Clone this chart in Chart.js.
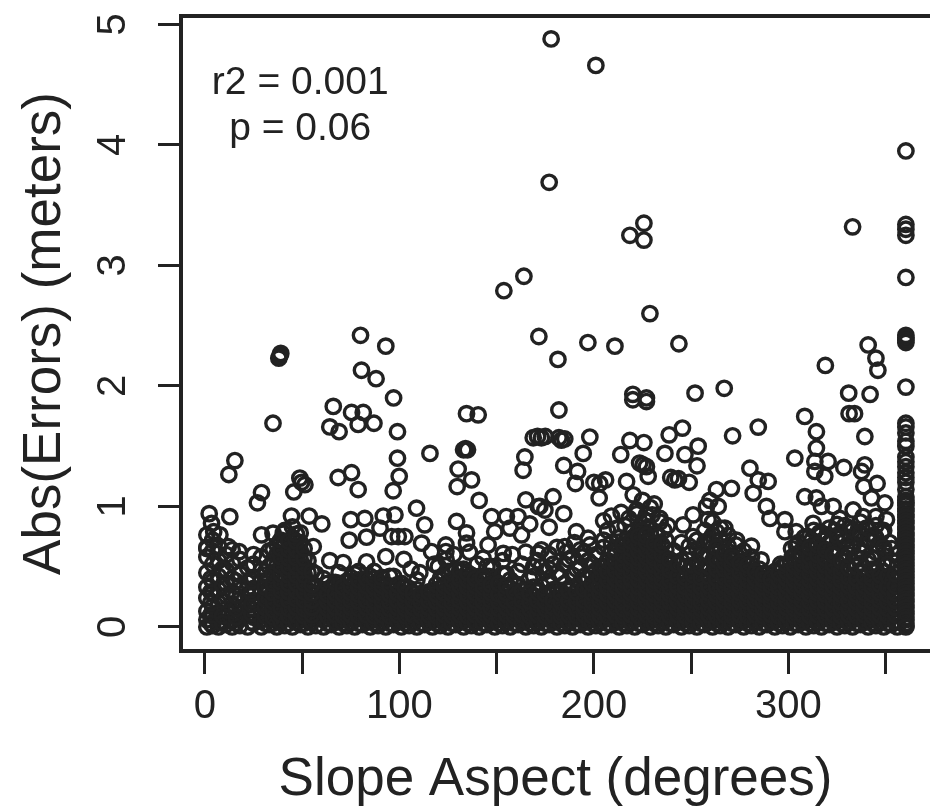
<!DOCTYPE html>
<html>
<head>
<meta charset="utf-8">
<script src="https://cdn.jsdelivr.net/npm/chart.js"></script>
<style>
  body { margin: 0; background: #fff; }
</style>
</head>
<body>
<canvas id="myChart" width="930" height="812"></canvas>
<script>
    // tick labels
    const xTickValues = [0, 50, 100, 150, 200, 250, 300, 350];
    const xTickLabels = ['0', '', '100', '', '200', '', '300', ''];
    const yTickValues = [0, 1, 2, 3, 4, 5];
    const xTitle = 'Slope Aspect (degrees)';
    const yTitle = 'Abs(Errors) (meters)';
    const noteLines = ['r2 = 0.001', 'p = 0.06'];

    // points above the dense band, read one by one
    const upperAspect = [178, 201, 177, 333, 218.5, 225.7, 225.7, 228.8, 153.7, 164, 171.7, 181.5, 196.9, 210.8, 243.7,
        341, 345, 346, 319, 331, 334, 342, 220, 227, 252, 267, 182, 38, 39, 38.5, 80, 80.5, 88, 93, 97, 35, 66, 75.4,
        81.4, 86.9, 78.8, 64.2, 69, 99, 134.5, 140.5, 133, 134, 135, 168.8, 171, 173, 175, 115.7, 99, 99.9, 96.8, 164.5,
        163.6, 130.2, 137.1, 129.7, 141, 15.4, 12.3, 29.1, 27, 68.5, 75.4, 78.8, 48.8, 51.4, 45.7, 49.7, 183.3, 182, 185,
        197.9, 194.5, 184.5, 191.6, 190.5, 203, 200, 206, 202.7, 218.5, 225.7, 213.8, 225.3, 223.5, 227, 216.8, 220.2,
        227.9, 238.7, 245.5, 236.5, 253.6, 246.8, 253, 241.6, 239.5, 243.5, 249, 271.3, 284.5, 308.4, 314.4, 314.4, 303.3,
        320.4, 313.6, 318.7, 313.6, 328.5, 339.3, 339.3, 331.2, 337.6, 345.6, 338.8, 342.7, 349.6, 280.2, 284.5, 289.6,
        281.9, 270.7, 263, 259.6, 227, 220];
    const upperError = [4.88, 4.66, 3.69, 3.32, 3.25, 3.35, 3.21, 2.6, 2.79, 2.91, 2.41, 2.22, 2.36, 2.33, 2.35,
        2.34, 2.23, 2.13, 2.17, 1.94, 1.77, 1.93, 1.93, 1.9, 1.94, 1.98, 1.8, 2.23, 2.27, 2.25, 2.42, 2.13, 2.06, 2.33, 1.9, 1.69, 1.83, 1.78,
        1.78, 1.69, 1.68, 1.66, 1.62, 1.62, 1.77, 1.76, 1.47, 1.48, 1.47, 1.57, 1.58, 1.57, 1.58, 1.44, 1.4, 1.25, 1.13, 1.41,
        1.3, 1.31, 1.22, 1.165, 1.05, 1.38, 1.265, 1.115, 1.03, 1.24, 1.28, 1.14, 1.235, 1.18, 1.12, 1.2, 1.55, 1.57, 1.56,
        1.575, 1.44, 1.34, 1.29, 1.19, 1.19, 1.2, 1.22, 1.07, 1.547, 1.53, 1.43, 1.345, 1.36, 1.33, 1.207, 1.096,
        1.25, 1.594, 1.65, 1.44, 1.5, 1.43, 1.337, 1.22, 1.24, 1.23, 1.2, 1.586, 1.658, 1.747, 1.62, 1.484, 1.4,
        1.373, 1.373, 1.25, 1.29, 1.323, 1.345, 1.58, 1.77, 1.29, 1.19, 1.165, 1.07, 1.03, 1.317, 1.22, 1.207,
        1.11, 1.15, 1.14, 1.05, 1.87, 1.885];

    // points between about 0.45 and 1.1 that still read as single rings
    const middleAspect = [2.2, 12.8, 3.4, 4.5, 44.5, 53.6, 60.1, 75, 82.2, 91.7, 97.7, 90, 108.8, 113, 129.4, 74.2, 83.1, 96, 99.4,
        102.8, 111.4, 116.5, 123.9, 123.9, 134.5, 134.5, 165, 171.4, 147.4, 155, 161, 167, 149, 156.8, 162.8, 171.4, 153.4,
        145.6, 1, 1, 7.7, 12, 17.6, 29.1, 35, 40.3, 55.7, 64.2, 71.1, 83.1, 93, 102.3, 110.5, 179, 174.8, 184.5, 177, 172.2,
        191, 185, 197, 288.7, 290.5, 298.2, 298.2, 304, 301.6, 257.9, 263.9, 251, 245.9, 251, 258.7, 263, 273.3, 281, 267.3, 286,
        308.4, 314.4, 317, 323, 333.3, 338.4, 345, 350.4, 326.4, 312.7, 225, 229, 227, 231, 222, 234, 205, 209, 214, 218, 222,
        226, 230, 234, 238, 207, 212, 216, 220, 224, 228, 232, 236, 124, 128, 136, 140, 143, 120, 106, 118];
    const middleError = [.94, .915, .86, .79, .92, .92, .855, .89, .9, .92, .93, .82, .985, .847, .875, .72, .745, .75, .75,
        .75, .695, .625, .68, .625, .78, .695, 1.055, .999, .916, .916, .916, .855, .79, .82, .764, .61, .61,
        .68, .764, .65, .764, .667, .625, .764, .778, .778, .667, .55, .534, .54, .584, .56, .45, 1.08, .97, .94, .827, 1,
        .79, .667, .736, 1, .9, .89, .79, .79, .65, 1, 1, .93, .847, .75, .89, .79, .72, .67, .82, .556,
        1.08, 1.07, 1, 1, .97, .916, .916, .89, .9, .86, 1.05, .99, .93, 1.02, .97, .9, .88, .92, .95, .9, .94,
        .89, .93, .87, .84, .8, .82, .84, .79, .8, .83, .76, .8, .56, .6, .62, .52, .57, .5, .48, .52];

    // rings on the speckled shoulders just above the solid mass
    const shoulderAspect = [146, 150, 155, 159, 163, 167, 171, 175, 179, 183, 187, 191, 195, 199, 148, 153, 158, 165, 169, 173, 177, 181, 186, 190, 194, 198,
        296, 302, 306, 310, 314, 318, 322, 326, 330, 334, 338, 342, 346, 350, 304, 308, 312, 316, 320, 324, 328, 332, 336, 340, 344, 348, 352];
    const shoulderError = [.42, .36, .44, .36, .52, .4, .55, .46, .52, .42, .56, .48, .62, .52, .5, .55, .6, .62, .5, .64, .6, .66, .62, .7, .58, .68,
        .52, .58, .62, .66, .6, .72, .64, .7, .66, .74, .62, .72, .68, .62, .68, .74, .72, .78, .74, .8, .76, .82, .78, .82, .76, .78, .7];

    // the dense band, one list of errors per aspect
    const bandAspect = [1, 4, 7, 11, 14, 18, 22, 25, 29, 33, 37, 41, 45, 49, 53, 57, 61, 65, 69, 73, 77, 81, 85, 89, 93, 97, 101, 105, 109, 113,
        117, 121, 125, 129, 133, 137, 141, 145, 149, 153, 157, 161, 165, 169, 173, 177, 181, 185, 189, 193, 197, 201, 205, 209, 213, 217, 221, 225, 229,
        233, 237, 241, 245, 249, 253, 257, 261, 265, 269, 273, 277, 281, 285, 289, 293, 297, 301, 305, 309, 313, 317, 321, 325, 329, 333, 337, 341, 345, 349, 353, 356];
    const bandError = [
        [0, .06, .13, .24, .33, .45, .58, .66],
        [.01, .09, .17, .28, .38, .52, .63, .72],
        [0, .04, .12, .2, .31, .42, .55, .67],
        [.02, .08, .15, .26, .36, .47, .6],
        [0, .05, .11, .19, .29, .4, .53, .64],
        [.01, .07, .16, .23, .34, .44, .56],
        [0, .1, .18, .27, .37, .49],
        [.03, .08, .14, .22, .32, .41, .52, .6],
        [0, .06, .12, .2, .29, .38, .47, .58],
        [.02, .09, .16, .24, .31, .4, .5, .63],
        [0, .05, .11, .18, .25, .33, .42, .51, .6, .68],
        [.01, .07, .13, .2, .27, .34, .41, .48, .55, .62, .7, .8],
        [0, .06, .12, .19, .26, .32, .39, .46, .53, .6, .67, .74, .83],
        [.02, .08, .14, .21, .28, .35, .42, .49, .56, .63, .7, .78],
        [0, .05, .11, .17, .23, .3, .37, .45, .55],
        [.01, .07, .13, .2, .27, .34, .44],
        [0, .06, .12, .18, .24, .31, .4],
        [.02, .08, .14, .2, .26, .33],
        [0, .05, .11, .17, .23, .29, .36, .45],
        [.01, .07, .13, .19, .25, .31, .38],
        [0, .06, .12, .18, .24, .3, .37, .44],
        [.02, .08, .14, .2, .26, .32],
        [0, .05, .11, .17, .23, .29, .35, .42],
        [.01, .07, .13, .19, .25, .31, .38],
        [0, .06, .12, .18, .24, .3],
        [.02, .08, .14, .2, .26, .33, .42],
        [0, .05, .11, .17, .23, .29, .36],
        [.01, .07, .13, .19, .25, .32],
        [0, .06, .12, .18, .24, .31, .39],
        [.02, .08, .14, .2, .27],
        [0, .05, .11, .17, .23, .3],
        [.01, .07, .13, .19, .25, .32, .4],
        [0, .06, .12, .18, .24, .3, .37, .46],
        [.02, .08, .14, .2, .26, .32, .39, .47],
        [0, .05, .11, .17, .23, .29, .35, .41, .48],
        [.01, .07, .13, .19, .25, .31, .37, .43],
        [0, .06, .12, .18, .24, .3, .36, .42],
        [.02, .08, .14, .2, .26, .33, .4, .5],
        [0, .05, .11, .17, .23, .3, .38],
        [.01, .07, .13, .19, .25, .31, .44],
        [0, .06, .12, .18, .24, .32, .39],
        [.02, .08, .14, .2, .27, .35, .46],
        [0, .05, .11, .17, .23, .31],
        [.01, .07, .13, .19, .26, .33, .42],
        [0, .06, .12, .18, .24, .34, .5],
        [.02, .08, .14, .2, .28, .38, .48],
        [0, .05, .11, .17, .23, .31, .45],
        [.01, .07, .13, .19, .27, .36, .52],
        [0, .06, .12, .18, .25, .33, .43, .58],
        [.02, .08, .14, .2, .27, .37, .49, .64],
        [0, .05, .11, .17, .23, .3, .4, .55],
        [.01, .07, .13, .19, .25, .32, .39, .47, .6],
        [0, .06, .12, .18, .24, .3, .36, .42, .5, .66, .72],
        [.02, .08, .14, .2, .26, .32, .38, .45, .53, .62, .7],
        [0, .05, .11, .17, .23, .29, .35, .41, .47, .55, .67, .74],
        [.01, .07, .13, .19, .25, .31, .37, .43, .49, .58, .64, .72],
        [0, .06, .12, .18, .24, .3, .36, .42, .48, .54, .6, .66, .73],
        [.02, .08, .14, .2, .26, .32, .38, .44, .5, .56, .62, .68, .74, .8],
        [0, .05, .11, .17, .23, .29, .35, .41, .47, .53, .59, .65, .71, .77],
        [.01, .07, .13, .19, .25, .31, .37, .43, .49, .55, .61, .69, .75],
        [0, .06, .12, .18, .24, .3, .36, .42, .48, .56, .64, .72],
        [.02, .08, .14, .2, .26, .32, .38, .46, .54, .63],
        [0, .05, .11, .17, .23, .29, .35, .43, .55, .7],
        [.01, .07, .13, .19, .25, .31, .38, .47, .6, .67],
        [0, .06, .12, .18, .24, .3, .37, .44, .53, .64, .72],
        [.02, .08, .14, .2, .26, .32, .4, .49, .58, .7, .8],
        [0, .05, .11, .17, .23, .29, .36, .45, .55, .66, .76, .87],
        [.01, .07, .13, .19, .25, .31, .38, .46, .55, .63, .72, .82],
        [0, .06, .12, .18, .24, .3, .36, .43, .5, .58, .67, .76],
        [.02, .08, .14, .2, .26, .32, .38, .45, .52, .6, .68],
        [0, .05, .11, .17, .23, .29, .35, .41, .48, .55, .63],
        [.01, .07, .13, .19, .25, .31, .37, .44, .52, .58],
        [0, .06, .12, .18, .24, .3, .36, .42, .48],
        [.02, .08, .14, .2, .26, .32, .38, .44],
        [0, .05, .11, .17, .23, .29, .35, .4, .46],
        [.01, .07, .13, .19, .25, .31, .37, .42, .5],
        [0, .06, .12, .18, .24, .3, .36, .43, .53],
        [.02, .08, .14, .2, .26, .32, .38, .44, .58, .7],
        [0, .05, .11, .17, .23, .29, .35, .41, .47, .62, .75],
        [.01, .07, .13, .19, .25, .31, .37, .43, .5, .68, .8],
        [0, .06, .12, .18, .24, .3, .36, .42, .48, .57, .66, .78],
        [.02, .08, .14, .2, .26, .32, .38, .44, .55, .7, .82],
        [0, .05, .11, .17, .23, .29, .35, .42, .5, .64, .76, .85],
        [.01, .07, .13, .19, .25, .31, .37, .45, .58, .72, .84],
        [0, .06, .12, .18, .24, .3, .36, .43, .54, .66, .8],
        [.02, .08, .14, .2, .26, .32, .38, .45, .53, .68, .78, .87],
        [0, .05, .11, .17, .23, .29, .35, .43, .56, .72, .82],
        [.01, .07, .13, .19, .25, .31, .39, .48, .62, .74, .84],
        [0, .06, .12, .18, .24, .3, .37, .46, .52, .66, .8],
        [.02, .08, .14, .2, .26, .33, .42, .55, .65],
        [0, .05, .11, .17, .23, .29, .38, .5, .6]
    ];

    // second pass over the band, between the columns above, where the mass reads solid
    const fillAspect = [3, 9, 16, 24, 31, 35, 39, 43, 47, 51, 55, 63, 67, 71, 75, 79, 83, 87, 91, 95, 99, 103, 107, 111, 115, 119, 123, 127, 131, 135,
        139, 143, 147, 151, 155, 159, 163, 167, 171, 175, 179, 183, 187, 191, 195, 199, 203, 207, 211, 215, 219, 223, 227, 231, 235, 239, 243, 247, 251, 255,
        259, 263, 267, 271, 275, 279, 283, 287, 291, 295, 299, 303, 307, 311, 315, 319, 323, 327, 331, 335, 339, 343, 347, 351, 355];
    const fillError = [
        [.03, .1, .2, .29, .4],
        [.03, .09, .22, .34, .48],
        [.03, .08, .15, .26, .38],
        [.04, .11, .19, .28, .38],
        [.03, .09, .16, .23, .33, .43],
        [.03, .08, .14, .21, .28, .36, .45, .55, .64],
        [.04, .1, .16, .23, .3, .37, .44, .51, .58, .65, .72],
        [.03, .09, .15, .22, .29, .36, .43, .5, .57, .64, .71],
        [.04, .1, .16, .23, .3, .36, .43, .5, .57, .64, .71, .77],
        [.03, .09, .15, .22, .29, .36, .43, .5, .57, .65],
        [.04, .1, .16, .22, .28, .35, .46],
        [.03, .09, .15, .21, .27, .36],
        [.04, .1, .16, .22, .28, .37],
        [.03, .09, .15, .21, .27, .33],
        [.04, .1, .16, .22, .28, .34, .41],
        [.03, .09, .15, .21, .27, .33, .39, .46],
        [.04, .1, .16, .22, .28, .34, .4],
        [.03, .09, .15, .21, .27, .33, .4, .46],
        [.04, .1, .16, .22, .28, .34, .41],
        [.03, .09, .15, .21, .27, .34, .42],
        [.04, .1, .16, .22, .28, .35],
        [.03, .09, .15, .21, .27, .33],
        [.04, .1, .16, .22, .28],
        [.03, .09, .15, .21, .27],
        [.04, .1, .16, .22, .29],
        [.03, .09, .15, .21, .27, .35],
        [.04, .1, .16, .22, .28, .34, .42],
        [.03, .09, .15, .21, .27, .33, .39, .45],
        [.04, .1, .16, .22, .28, .34, .4, .47],
        [.03, .09, .15, .21, .27, .33, .39, .45],
        [.04, .1, .16, .22, .28, .34, .4],
        [.03, .09, .15, .21, .27, .33, .41],
        [.04, .1, .16, .22, .28, .35],
        [.03, .09, .15, .21, .27, .36],
        [.04, .1, .16, .22, .28, .34],
        [.03, .09, .15, .21, .29],
        [.04, .1, .16, .22, .3],
        [.03, .09, .15, .21, .28],
        [.04, .1, .16, .22, .29],
        [.03, .09, .15, .21, .27],
        [.04, .1, .16, .22, .31],
        [.03, .09, .15, .21, .28],
        [.04, .1, .16, .22, .3],
        [.03, .09, .15, .21, .29],
        [.04, .1, .16, .22, .31, .42],
        [.03, .09, .15, .21, .28, .36, .44],
        [.04, .1, .16, .22, .28, .34, .41, .5],
        [.03, .09, .15, .21, .27, .33, .39, .46, .55],
        [.04, .1, .16, .22, .28, .34, .4, .47, .54, .62],
        [.03, .09, .15, .21, .27, .33, .39, .46, .52, .6, .68],
        [.04, .1, .16, .22, .28, .34, .4, .46, .52, .58, .65, .71],
        [.03, .09, .15, .21, .27, .33, .39, .45, .51, .57, .63, .69, .75],
        [.04, .1, .16, .22, .28, .34, .4, .46, .52, .58, .64, .7, .76],
        [.03, .09, .15, .21, .27, .33, .39, .45, .51, .57, .63, .69],
        [.04, .1, .16, .22, .28, .34, .4, .46, .52, .6, .68],
        [.03, .09, .15, .21, .27, .33, .39, .47, .56],
        [.04, .1, .16, .22, .28, .34, .42, .52],
        [.03, .09, .15, .21, .27, .33, .41, .5],
        [.04, .1, .16, .22, .28, .35, .43, .51],
        [.03, .09, .15, .21, .27, .33, .41, .5, .59],
        [.04, .1, .16, .22, .28, .34, .42, .5, .6, .72],
        [.03, .09, .15, .21, .27, .33, .4, .48, .56, .66],
        [.04, .1, .16, .22, .28, .34, .41, .48, .54, .61],
        [.03, .09, .15, .21, .27, .33, .39, .46, .52, .58],
        [.04, .1, .16, .22, .28, .34, .4, .46, .53],
        [.03, .09, .15, .21, .27, .33, .39, .45, .51],
        [.04, .1, .16, .22, .28, .34, .4, .46],
        [.03, .09, .15, .21, .27, .33, .39, .44],
        [.04, .1, .16, .22, .28, .34, .4],
        [.03, .09, .15, .21, .27, .33, .39, .45],
        [.04, .1, .16, .22, .28, .34, .4, .46, .52],
        [.03, .09, .15, .21, .27, .33, .39, .45, .51, .58],
        [.04, .1, .16, .22, .28, .34, .4, .46, .52, .6],
        [.03, .09, .15, .21, .27, .33, .39, .45, .51, .58, .66],
        [.04, .1, .16, .22, .28, .34, .4, .46, .52, .6, .68],
        [.03, .09, .15, .21, .27, .33, .39, .45, .51, .57, .64],
        [.04, .1, .16, .22, .28, .34, .4, .46, .52, .6],
        [.03, .09, .15, .21, .27, .33, .39, .46, .55],
        [.04, .1, .16, .22, .28, .34, .41, .49, .6],
        [.03, .09, .15, .21, .27, .33, .4, .5, .58],
        [.04, .1, .16, .22, .28, .34, .41, .49],
        [.03, .09, .15, .21, .27, .33, .4, .48, .57],
        [.04, .1, .16, .22, .28, .35, .43],
        [.03, .09, .15, .21, .27, .33, .42, .52],
        [.04, .1, .16, .22, .28, .34, .44]
    ];

    // the column of points at the right edge, packed tight below about 1
    const edgeAspect = [360.4];
    const edgeError = [3.95, 3.34, 3.3, 3.25, 2.9, 2.42, 2.4, 2.38, 2.36, 1.99, 1.69, 1.66, 1.61, 1.54, 1.5, 1.41, 1.37, 1.33, 1.28, 1.24, 1.2, 1.14, 1.08,
        1.05, 1.03, 1.01, .98, .96, .93, .91, .88, .86, .83, .81, .78, .76, .73, .71, .68, .66, .63, .61, .58, .56, .53, .51, .48, .46, .43, .41, .38, .36, .33,
        .31, .28, .26, .23, .21, .18, .16, .13, .11, .08, .06, .03, .01, 0];

    // build the x/y points for chart.js
    const points = [];
    upperAspect.forEach((x, i) => points.push({ x: x, y: upperError[i] }));
    middleAspect.forEach((x, i) => points.push({ x: x, y: middleError[i] }));
    shoulderAspect.forEach((x, i) => points.push({ x: x, y: shoulderError[i] }));
    bandAspect.forEach((x, i) => bandError[i].forEach(y => points.push({ x: x, y: y })));
    fillAspect.forEach((x, i) => fillError[i].forEach(y => points.push({ x: x, y: y })));
    edgeError.forEach(y => points.push({ x: edgeAspect[0], y: y }));

    const ink = '#222222';
    const labelFont = '"Liberation Sans", Arial, sans-serif';

    // box round the plot, open on the right as in the cropped original
    const framePlugin = {
        id: 'frame',
        afterDatasetsDraw(chart) {
            const a = chart.chartArea;
            const ctx = chart.ctx;
            ctx.save();
            ctx.strokeStyle = ink;
            ctx.lineWidth = 4;
            ctx.beginPath();
            ctx.moveTo(a.right, a.top);
            ctx.lineTo(a.left, a.top);
            ctx.lineTo(a.left, a.bottom);
            ctx.lineTo(a.right, a.bottom);
            ctx.stroke();
            ctx.restore();
        }
    };

    // r2 and p note, placed in data coordinates
    const notePlugin = {
        id: 'note',
        afterDraw(chart) {
            const ctx = chart.ctx;
            ctx.save();
            ctx.fillStyle = ink;
            ctx.font = '39px ' + labelFont;
            ctx.textAlign = 'center';
            ctx.textBaseline = 'middle';
            ctx.fillText(noteLines[0], chart.scales.x.getPixelForValue(49), chart.scales.y.getPixelForValue(4.51));
            ctx.fillText(noteLines[1], chart.scales.x.getPixelForValue(49), chart.scales.y.getPixelForValue(4.13));
            ctx.restore();
        }
    };

    var ctx = document.getElementById('myChart').getContext('2d');

    var myChart = new Chart(ctx, {
        type: 'scatter',
        data: {
            datasets: [{
                label: 'Abs(Errors)',
                data: points,
                borderColor: ink,
                backgroundColor: 'rgba(0, 0, 0, 0)',
                borderWidth: 3.4,
                pointRadius: 7.2
            }]
        },
        options: {
            responsive: false,
            animation: false,
            layout: { autoPadding: false, padding: { top: 16, right: 0, left: 0, bottom: 0 } },
            plugins: {
                legend: { display: false },
                tooltip: { enabled: false }
            },
            scales: {
                x: {
                    type: 'linear',
                    min: -12.3,
                    max: 372.8,
                    afterBuildTicks(axis) { axis.ticks = xTickValues.map(v => ({ value: v })); },
                    afterFit(axis) {
                        axis.height = 161;
                        axis.paddingLeft = 0;
                        axis.paddingRight = 0;
                    },
                    border: { display: false },
                    grid: { drawOnChartArea: false, drawTicks: true, tickLength: 23, tickWidth: 3, tickColor: ink },
                    ticks: {
                        autoSkip: false,
                        maxRotation: 0,
                        padding: 9,
                        color: ink,
                        font: { family: labelFont, size: 40 },
                        callback(value) { return xTickLabels[xTickValues.indexOf(value)]; }
                    },
                    title: {
                        display: true,
                        text: xTitle,
                        color: ink,
                        font: { family: labelFont, size: 53 },
                        padding: { top: 18, bottom: 0 }
                    }
                },
                y: {
                    type: 'linear',
                    min: -0.2,
                    max: 5.07,
                    afterBuildTicks(axis) { axis.ticks = yTickValues.map(v => ({ value: v })); },
                    afterFit(axis) {
                        axis.width = 181;
                        axis.paddingTop = 0;
                        axis.paddingBottom = 0;
                    },
                    border: { display: false },
                    grid: { drawOnChartArea: false, drawTicks: true, tickLength: 23, tickWidth: 3, tickColor: ink },
                    ticks: {
                        autoSkip: false,
                        minRotation: 90,
                        maxRotation: 90,
                        crossAlign: 'center',
                        padding: 33,
                        color: ink,
                        font: { family: labelFont, size: 40 }
                    },
                    title: {
                        display: true,
                        text: yTitle,
                        color: ink,
                        font: { family: labelFont, size: 53 },
                        padding: { top: 14, bottom: 0 }
                    }
                }
            }
        },
        plugins: [framePlugin, notePlugin]
    });
</script>
</body>
</html>
